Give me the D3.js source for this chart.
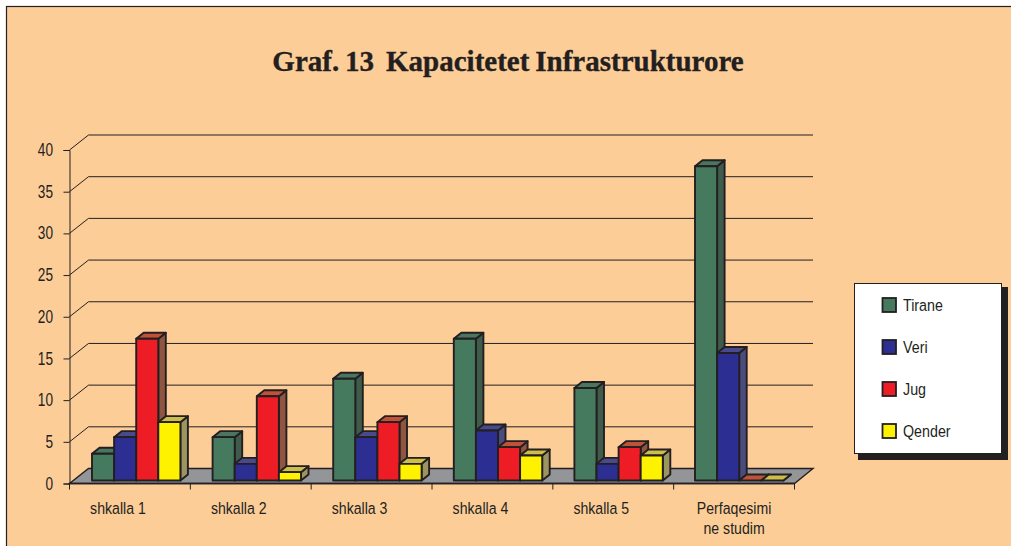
<!DOCTYPE html>
<html><head><meta charset="utf-8">
<script src="https://cdnjs.cloudflare.com/ajax/libs/d3/7.8.5/d3.min.js"></script>
<style>html,body{margin:0;padding:0;background:#fff;overflow:hidden}svg{display:block}</style></head>
<body><svg id="c" width="1011" height="546"></svg>
<script>
const categories = ["shkalla 1","shkalla 2","shkalla 3","shkalla 4","shkalla 5","Perfaqesimi|ne studim"];
const seriesNames = ["Tirane","Veri","Jug","Qender"];
const tirane = [3.2,5.2,12.2,17,11.1,37.7];
const veri = [5.2,2,5.2,6,2,15.3];
const jug = [17,10.1,7,4,4,0];
const qender = [7,1,2,3,3,0];
const yTicks = [0,5,10,15,20,25,30,35,40];
const seriesValues = [tirane,veri,jug,qender];
const colors = ["#467A5E","#2C2E91","#EE1C25","#FFF200"];
const topColors = ["#4A7560","#484A8C","#C0523A","#CDBE4A"];
const sideColors = ["#3F5B4B","#4B4B7E","#8F5540","#9C9560"];
const ink = "#231F20";

const svg = d3.select("#c");
svg.append("rect").attr("x",6.5).attr("y",6.5).attr("width",1100).attr("height",640)
  .attr("fill","#FDCD98").attr("stroke",ink).attr("stroke-width",1.2);

const y = d3.scaleLinear().domain([0,40]).range([483.5,150]);
const x0 = d3.scaleBand().domain(categories).range([69.5,794.5]);
const barBand = d3.scaleBand().domain(categories).range([75.5,75.5+6*120.6]);
const x1 = d3.scaleBand().domain(seriesNames).range([0,88.4]);
const wallDx=19, wallDy=-15, barDx=7.5, barDy=-6, barLift=3;

// floor
svg.append("polygon").attr("fill","#939598").attr("stroke",ink).attr("stroke-width",1.4)
 .attr("points",[[69.5,y(0)],[794.5,y(0)],[813,y(0)+wallDy],[69.5+wallDx,y(0)+wallDy]].join(" "));
// wall gridlines
yTicks.filter(d=>d>0).forEach(t=>{
  svg.append("path").attr("fill","none").attr("stroke",ink).attr("stroke-width",1)
   .attr("d",`M${69.5},${y(t)}L${69.5+wallDx},${y(t)+wallDy}H813`);
});
// y axis
const yAxis = d3.axisLeft(y).tickValues(yTicks).tickSize(6).tickPadding(5);
const gy = svg.append("g").attr("transform","translate(69.5,0)").call(yAxis);
gy.selectAll("path,line").attr("stroke",ink);
gy.selectAll("text").attr("font-family","'Liberation Sans'").attr("font-size",17.5).attr("fill",ink)
  .attr("transform","scale(0.78,1)").attr("x",-16.5/0.78);
// x axis
const gx = svg.append("g").attr("transform","translate(0,"+y(0)+")");
gx.append("path").attr("d","M69.5,0H794.5").attr("stroke",ink).attr("stroke-width",1.6);
[...categories.map(c=>x0(c)),794.5].forEach(v=>gx.append("line").attr("x1",v).attr("x2",v).attr("y1",0).attr("y2",6).attr("stroke",ink));
categories.forEach(c=>{
  const lines=c.split("|");
  // single-line labels sit left of their band centre, as in the source
  const cx=x0(c)+x0.bandwidth()/2-(lines.length===1?12:0);
  lines.forEach((ln,i)=>{
    svg.append("text").text(ln).attr("transform",`translate(${cx},${514+i*20}) scale(0.83,1)`)
     .attr("text-anchor","middle").attr("font-family","'Liberation Sans'").attr("font-size",17).attr("fill",ink);
  });
});
// bars
const bw = x1.bandwidth();
categories.forEach((c,ci)=>{
  const startX = barBand(c)+16.5;
  seriesNames.forEach((s,si)=>{
    const v = seriesValues[si][ci];
    const xx = startX + x1(s), yb = y(0)-barLift, yt = y(v)-barLift;
    const g = svg.append("g").attr("stroke",ink).attr("stroke-width",1.9).attr("stroke-linejoin","round");
    g.append("polygon").attr("fill",sideColors[si])
      .attr("points",[[xx+bw,yt],[xx+bw+barDx,yt+barDy],[xx+bw+barDx,yb+barDy],[xx+bw,yb]].join(" "));
    g.append("polygon").attr("fill",topColors[si])
      .attr("points",[[xx,yt],[xx+barDx,yt+barDy],[xx+bw+barDx,yt+barDy],[xx+bw,yt]].join(" "));
    if(v>0) g.append("rect").attr("x",xx).attr("y",yt).attr("width",bw).attr("height",yb-yt).attr("fill",colors[si]);
  });
});
// title
svg.append("text").text("Graf. 13  Kapacitetet Infrastrukturore").attr("x",508).attr("y",71)
  .attr("text-anchor","middle").attr("font-family","'Liberation Serif'").attr("font-weight","bold").attr("font-size",29).attr("fill",ink)
  .attr("stroke",ink).attr("stroke-width",0.35)
  .style("white-space","pre").style("word-spacing","-1.3px");
// legend
svg.append("rect").attr("x",858).attr("y",287).attr("width",150).attr("height",173).attr("fill",ink);
svg.append("rect").attr("x",854.5).attr("y",283.5).attr("width",147).attr("height",170).attr("fill","#fff").attr("stroke",ink);
const ly = d3.scalePoint().domain(seriesNames).range([305,431]);
seriesNames.forEach((s,i)=>{
  svg.append("rect").attr("x",882.5).attr("y",ly(s)-7).attr("width",13.5).attr("height",14).attr("fill",colors[i]).attr("stroke",ink).attr("stroke-width",1.8);
  svg.append("text").text(s).attr("transform",`translate(903,${ly(s)+6}) scale(0.84,1)`)
    .attr("font-family","'Liberation Sans'").attr("font-size",17).attr("fill",ink);
});
</script></body></html>
